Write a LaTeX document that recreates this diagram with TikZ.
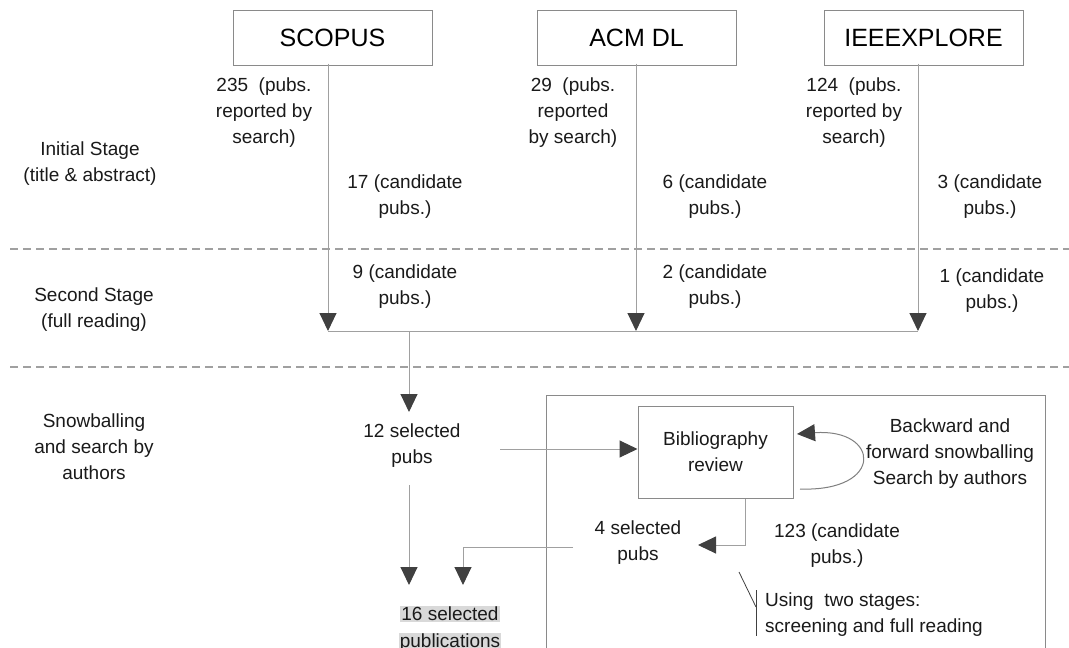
\documentclass[tikz,border=0pt]{standalone}
\usepackage{fontspec}
\setmainfont{Liberation Sans}
\usetikzlibrary{arrows.meta}
\definecolor{linegray}{HTML}{A0A0A0}
\definecolor{boxgray}{HTML}{8A8A8A}
\definecolor{tipgray}{HTML}{404040}
\definecolor{textc}{HTML}{1A1A1A}
\definecolor{hlgray}{HTML}{D9D9D9}
\newcommand{\hlbox}[1]{{\setlength{\fboxsep}{1pt}\colorbox{hlgray}{#1}}}
\begin{document}
\begin{tikzpicture}[x=1pt,y=-1pt,
  txt/.style={font=\fontsize{19}{26}\selectfont, align=center, text=textc, inner sep=0pt},
  dbbox/.style={draw=boxgray, line width=1pt, minimum width=199pt, minimum height=55pt, font=\fontsize{25}{30}\selectfont, text=black, inner sep=0pt},
  conn/.style={draw=linegray, line width=1pt},
  arr/.style={conn, -{Triangle[length=18pt,width=17pt,color=tipgray]}},
  sepline/.style={draw=linegray, line width=1.6pt, dash pattern=on 8pt off 5pt},
  callout/.style={draw=tipgray, line width=0.8pt}]
\useasboundingbox (0,0) rectangle (1069,648);
\fill[white] (0,0) rectangle (1069,648);

% stage separators
\draw[sepline] (10,249) -- (1069,249);
\draw[sepline] (10,367) -- (1069,367);

% stage labels
\node[txt] (st1) at (90,164) {Initial Stage\\(title \& abstract)};
\node[txt] (st2) at (94,310) {Second Stage\\(full reading)};
\node[txt] (st3) at (94,447) {Snowballing\\and search by\\authors};

% database boxes
\node[dbbox] (scopus) at (332.5,37.5) {SCOPUS};
\node[dbbox] (acm) at (636.5,37.5) {ACM DL};
\node[dbbox] (ieee) at (923.5,37.5) {IEEEXPLORE};

\coordinate (sE) at (328,331);
\coordinate (aE) at (636,331);
\coordinate (iE) at (918,331);
\coordinate (jn) at (409,331);

\draw[arr] ([yshift=2pt]scopus.south -| sE) -- (sE);
\draw[arr] ([yshift=2pt]acm.south -| aE) -- (aE);
\draw[arr] ([yshift=2pt]ieee.south -| iE) -- (iE);
\draw[conn] (sE) -- (iE);

% counts
\node[txt] (n235) at (264,113) {235\ \ (pubs.\\reported by\\search)};
\node[txt] (n29) at (573,113) {29\ \ (pubs.\\reported\\by search)};
\node[txt] (n124) at (854,113) {124\ \ (pubs.\\reported by\\search)};
\node[txt] (c17) at (405,197) {17 (candidate\\pubs.)};
\node[txt] (c6) at (715,197) {6 (candidate\\pubs.)};
\node[txt] (c3) at (990,197) {3 (candidate\\pubs.)};
\node[txt] (c9) at (405,287) {9 (candidate\\pubs.)};
\node[txt] (c2) at (715,287) {2 (candidate\\pubs.)};
\node[txt] (c1) at (992,291) {1 (candidate\\pubs.)};

% snowballing stage
\node[txt] (sel12) at (412,446) {12 selected\\pubs};
\coordinate (t12) at (409,412);
\draw[arr] (jn) -- (t12);

\draw[draw=boxgray, line width=1pt] (546,395) -- (1045,395) -- (1045,660);
\draw[draw=boxgray, line width=1pt] (546,395) -- (546,660);

\node[txt, draw=boxgray, line width=1pt, minimum width=155pt, minimum height=92pt] (bib) at (715.5,452) {Bibliography\\review};

\coordinate (a12) at (500,449);
\draw[arr] (a12) -- (bib.west |- a12);

\node[txt] (snow) at (950,454) {Backward and\\forward snowballing\\Search by authors};
\draw[conn, draw=gray, -{Triangle[length=18pt,width=17pt,color=tipgray]}]
  (800,489) .. controls (885,492) and (880,428) .. (797,434);

\node[txt] (sel4) at (638,543) {4 selected\\pubs};
\node[txt] (c123) at (837,546) {123 (candidate\\pubs.)};
\coordinate (t4) at (698,545);
\draw[arr] (bib.south -| 745,0) |- (t4);

\node[txt] (final) at (450,629) {\hlbox{16 selected}\\[1pt]\hlbox{publications}};
\coordinate (s12b) at (409,485);
\coordinate (t16a) at (409,585);
\draw[arr] (s12b) -- (t16a);
\coordinate (s4b) at (573,547);
\coordinate (t16b) at (463,585);
\draw[arr] (s4b) -| (t16b);

\node[txt, align=left, anchor=west] (using) at (765,615) {Using\ \ two stages:\\screening and full reading};
\draw[callout] (739,572) -- (756,607);
\draw[callout] (756,590) -- (756,636);
\end{tikzpicture}
\end{document}
